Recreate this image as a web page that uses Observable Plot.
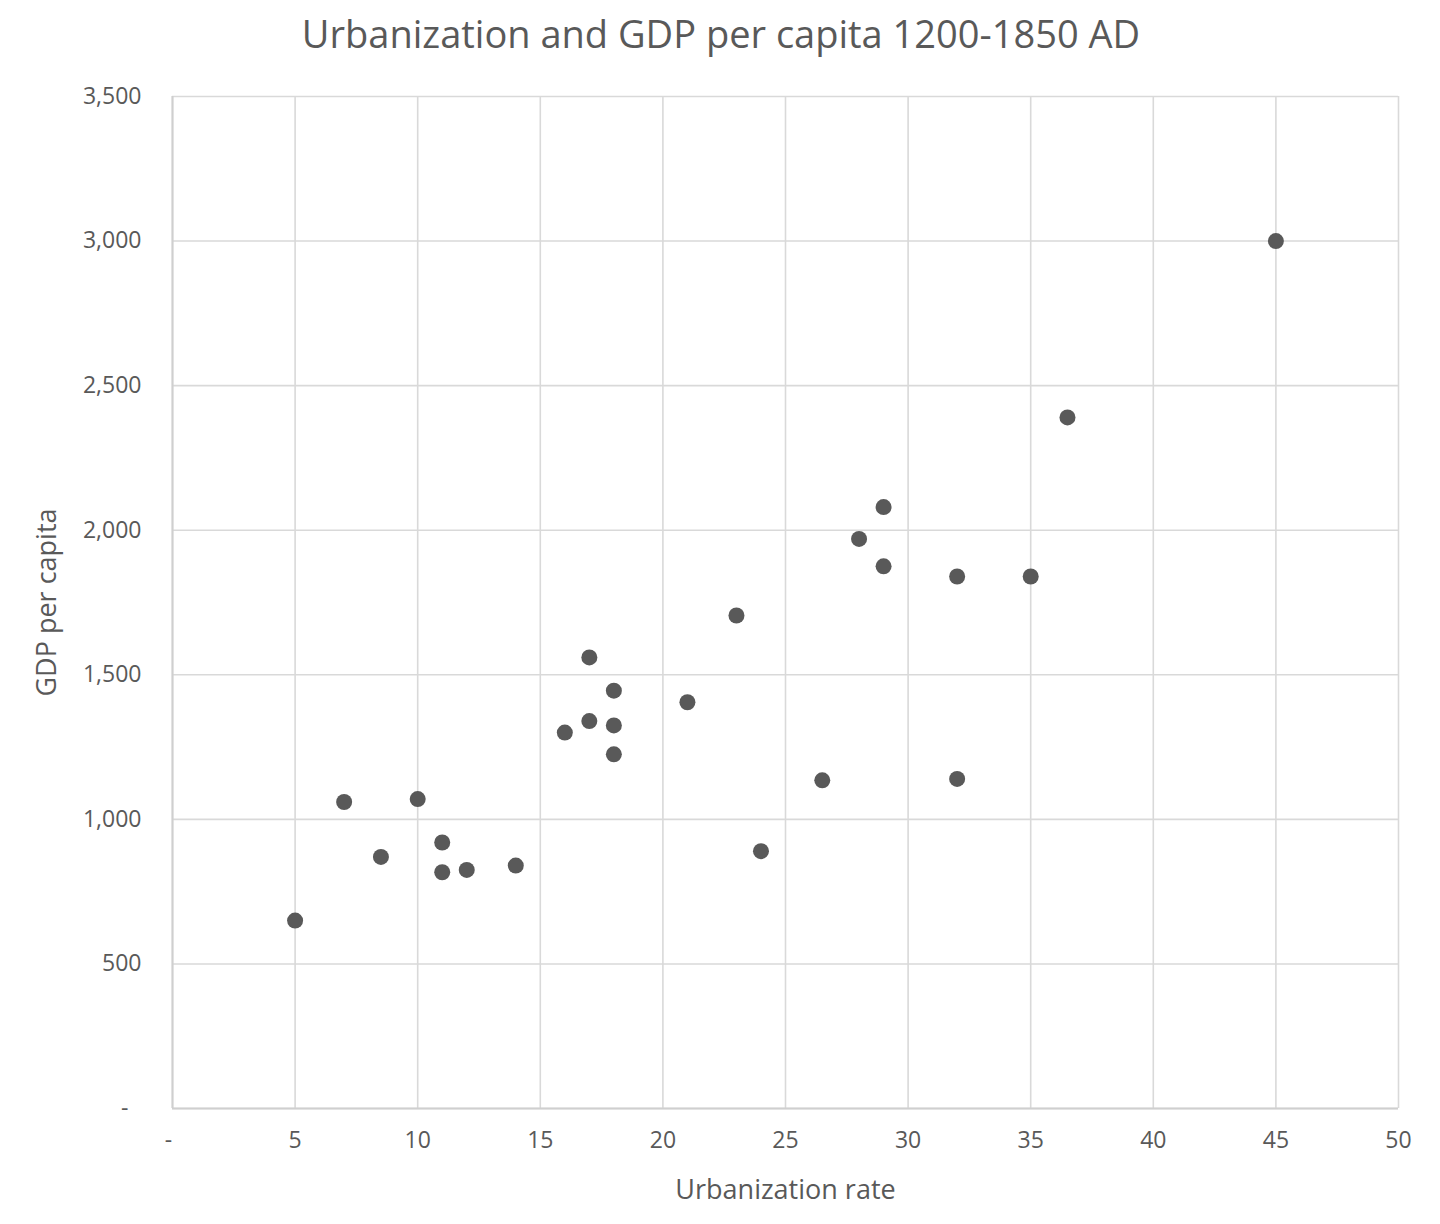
<!DOCTYPE html>
<html>
<head>
<meta charset="utf-8">
<script src="https://cdn.jsdelivr.net/npm/d3@7"></script>
<script src="https://cdn.jsdelivr.net/npm/@observablehq/plot@0.6"></script>
<style>
  html, body { margin: 0; padding: 0; background: #fff; }
  #title {
    height: 70px; width: 1440px; margin: 0; padding: 0;
    font-family: "Open Sans", sans-serif; font-size: 38px; color: #595959;
    text-align: center; line-height: 66px; box-sizing: border-box;
    padding-left: 2px;
  }
  #chart svg { display: block; }
</style>
</head>
<body>
<div id="title">Urbanization and GDP per capita 1200-1850 AD</div>
<div id="chart"></div>
<script>
// Data
const urbanizationRate = [5, 7, 8.5, 10, 11, 11, 12, 14, 16, 17, 17, 18, 18, 18, 21, 23, 24, 26.5, 28, 29, 29, 32, 32, 35, 36.5, 45];
const gdpPerCapita    = [650, 1060, 870, 1070, 920, 817, 825, 840, 1300, 1560, 1340, 1445, 1325, 1225, 1405, 1705, 890, 1135, 1970, 2080, 1875, 1840, 1140, 1840, 2390, 3000];
const xTicks = [0, 5, 10, 15, 20, 25, 30, 35, 40, 45, 50];
const yTicks = [0, 500, 1000, 1500, 2000, 2500, 3000, 3500];

const points = urbanizationRate.map((u, i) => ({u, g: gdpPerCapita[i]}));
const grey = "#595959";
const gridColor = "#d9d9d9";
const fmtY = d => d === 0 ? "-" : d3.format(",")(d);
const fmtX = d => d === 0 ? "-" : String(d);

const chart = Plot.plot({
  width: 1440,
  height: 1154,
  marginTop: 26,
  marginBottom: 116,
  marginLeft: 172,
  marginRight: 42,
  style: {fontFamily: "Open Sans, sans-serif", color: grey, background: "#fff"},
  x: {domain: [0, 50]},
  y: {domain: [0, 3500]},
  marks: [
    Plot.gridX(xTicks, {stroke: gridColor, strokeOpacity: 1, strokeWidth: 1.6}),
    Plot.gridY(yTicks, {stroke: gridColor, strokeOpacity: 1, strokeWidth: 1.6}),
    Plot.ruleX([0], {stroke: "#cfcfcf", strokeWidth: 2}),
    Plot.ruleY([0], {stroke: "#cfcfcf", strokeWidth: 2}),
    Plot.axisX(xTicks.filter(d => d !== 0), {tickSize: 0, tickPadding: 23, tickFormat: fmtX, fontSize: 23, fill: grey, label: null}),
    Plot.axisX([0], {tickSize: 0, tickPadding: 23, tickFormat: fmtX, fontSize: 23, fill: grey, label: null, dx: -4}),
    Plot.axisY(yTicks.filter(d => d !== 0), {tickSize: 0, tickPadding: 31, tickFormat: fmtY, fontSize: 23, fill: grey, label: null}),
    Plot.axisY([0], {tickSize: 0, tickPadding: 31, tickFormat: fmtY, fontSize: 23, fill: grey, label: null, dx: -13}),
    Plot.dot(points, {x: "u", y: "g", r: 8, fill: grey, stroke: "none"}),
    Plot.text(["Urbanization rate"], {frameAnchor: "bottom", dy: 82, fontSize: 27, fill: grey, lineAnchor: "middle"}),
    Plot.text(["GDP per capita"], {frameAnchor: "left", dx: -125, rotate: -90, fontSize: 27, fill: grey, lineAnchor: "middle", textAnchor: "middle"})
  ]
});
document.getElementById("chart").appendChild(chart);
</script>
</body>
</html>
